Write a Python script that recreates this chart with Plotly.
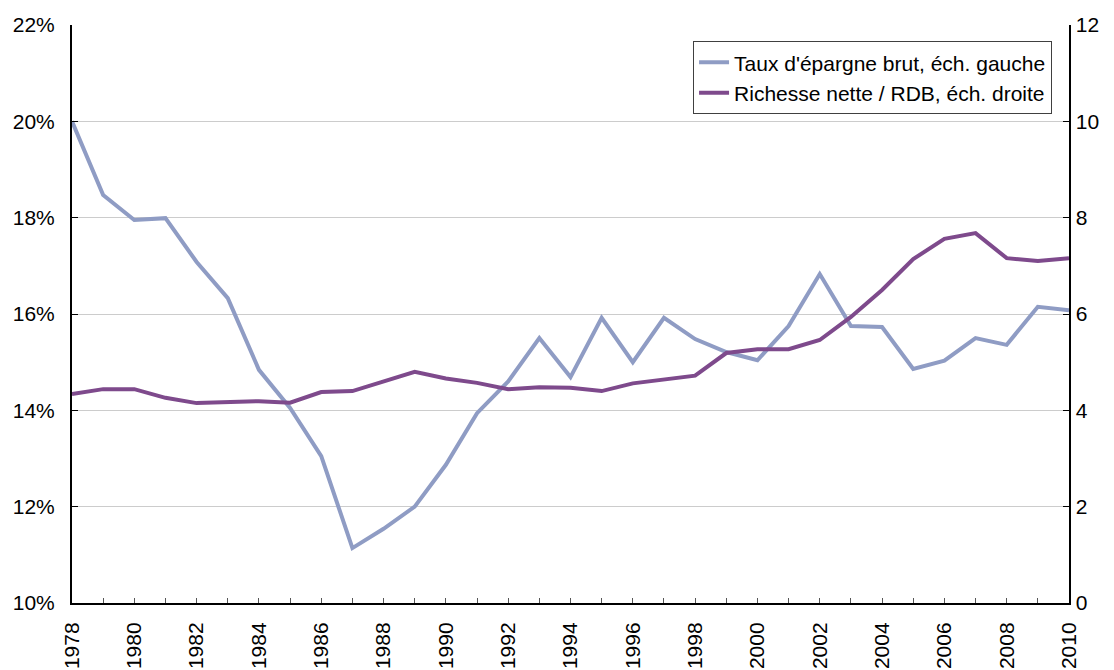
import plotly.graph_objects as go

# données
years = list(range(1978, 2011))

taux_epargne = [20.0, 18.47, 17.95, 17.99, 17.08, 16.33, 14.84, 14.05, 13.05, 11.14,
                11.54, 12.0, 12.87, 13.94, 14.6, 15.5, 14.69, 15.92, 15.0, 15.92,
                15.48, 15.21, 15.04, 15.75, 16.83, 15.75, 15.73, 14.86, 15.03, 15.5,
                15.36, 16.15, 16.08]

richesse_rdb = [4.34, 4.44, 4.44, 4.26, 4.15, 4.18, 4.19, 4.16, 4.38, 4.40,
                4.61, 4.80, 4.66, 4.57, 4.44, 4.48, 4.47, 4.40, 4.56, 4.65,
                4.72, 5.19, 5.27, 5.27, 5.46, 5.94, 6.50, 7.14, 7.56, 7.68,
                7.16, 7.10, 7.16]

left_ticks = [10, 12, 14, 16, 18, 20, 22]
left_labels = [f"{v}%" for v in left_ticks]
right_ticks = [0, 2, 4, 6, 8, 10, 12]
# small space prefix pushes the right-hand labels away from the axis
right_labels = ["\u00a0" + str(v) for v in right_ticks]

fig = go.Figure()
fig.add_trace(go.Scatter(x=years, y=taux_epargne, mode="lines",
                         name="Taux d'épargne brut, éch. gauche",
                         line=dict(color="#8f9cc4", width=4)))
fig.add_trace(go.Scatter(x=years, y=richesse_rdb, mode="lines",
                         name="Richesse nette / RDB, éch. droite",
                         line=dict(color="#7e4a8c", width=4), yaxis="y2"))

# page body has an 8px margin: margins shifted so the plot area lands where the reference has it
fig.update_layout(
    width=1114, height=670,
    margin=dict(l=64, r=53, t=17, b=75),
    paper_bgcolor="white", plot_bgcolor="white",
    font=dict(family="Liberation Sans, Arial", size=21, color="black"),
    showlegend=True,
    legend=dict(x=0.983, y=0.972, xanchor="right", yanchor="top",
                bgcolor="white", bordercolor="#404040", borderwidth=1,
                font=dict(size=21), itemwidth=30),
    xaxis=dict(range=[1978, 2010], tickmode="linear", tick0=1978, dtick=2,
               tickangle=-90, ticks="inside", ticklen=5, tickcolor="#555",
               ticklabelstandoff=9,
               showline=True, linecolor="black", linewidth=2,
               showgrid=False, zeroline=False, automargin=False,
               minor=dict(ticks="inside", dtick=1, ticklen=5, tickcolor="#555")),
    # mirror="ticks" draws the right-hand spine and its inside ticks
    yaxis=dict(range=[10, 22], tickvals=left_ticks, ticktext=left_labels,
               ticks="inside", ticklen=6, tickcolor="black", ticklabelstandoff=11,
               showline=True, linecolor="black", linewidth=2, mirror="ticks",
               automargin=False,
               showgrid=True, gridcolor="#cccccc", gridwidth=1, zeroline=False),
    yaxis2=dict(range=[0, 12], tickvals=right_ticks, ticktext=right_labels,
                overlaying="y", side="right", ticks="",
                automargin=False, showline=False,
                showgrid=False, zeroline=False),
)

fig.write_html("out.html")
